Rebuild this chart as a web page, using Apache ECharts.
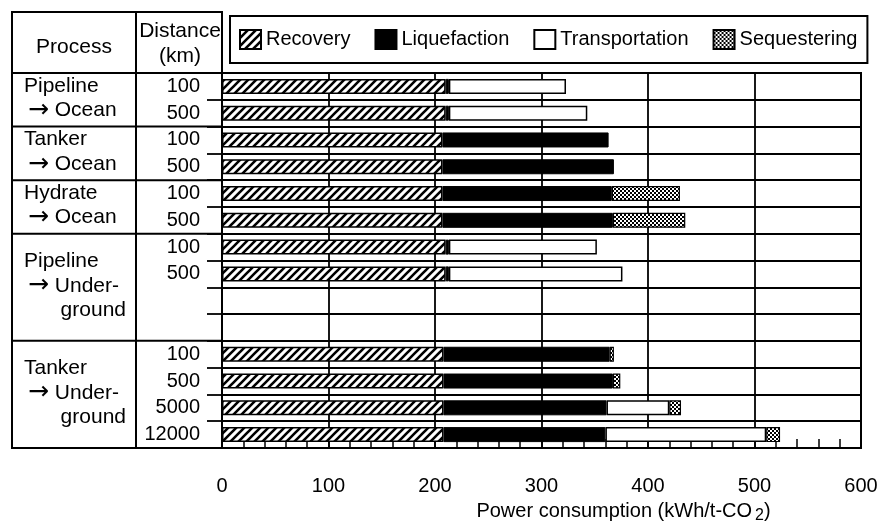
<!DOCTYPE html>
<html><head><meta charset="utf-8">
<script src="https://cdn.jsdelivr.net/npm/echarts@6/dist/echarts.min.js"></script>
<style>html,body{margin:0;padding:0;background:#fff}#c{width:878px;height:529px}</style>
</head><body><div id="c"></div>
<script>
// ---- data ----
const rowIds = ['PO100','PO500','TO100','TO500','HO100','HO500','PU100','PU500','PUb1','PUb2','TU100','TU500','TU5000','TU12000'];
const distanceLabels = ['100','500','100','500','100','500','100','500','','','100','500','5000','12000'];
const processLines = [['Pipeline','→ Ocean'],['Tanker','→ Ocean'],['Hydrate','→ Ocean'],['Pipeline','→ Under-','ground'],['Tanker','→ Under-','ground']];
const groupSizes = [2,2,2,4,4];
const seriesNames = ['Recovery','Liquefaction','Transportation','Sequestering'];
const recovery       = [210,210,207,207,207,207,210,210,null,null,208,208,208,208];
const liquefaction   = [3,3,156,161,159,160,3,3,null,null,156,159,153,152];
const transportation = [110,130,null,null,null,null,139,163,null,null,null,null,59,151];
const sequestering   = [null,null,null,null,64,68,null,null,null,null,4,7,11,13];
const xTicks = [0,100,200,300,400,500,600];

// ---- patterns ----
function hatchCanvas(){
  const c=document.createElement('canvas');c.width=8;c.height=8;
  const g=c.getContext('2d');g.fillStyle='#fff';g.fillRect(0,0,8,8);
  g.strokeStyle='#000';g.lineWidth=2.6;g.beginPath();
  g.moveTo(-2,10);g.lineTo(10,-2);g.moveTo(-6,6);g.lineTo(6,-6);g.moveTo(2,14);g.lineTo(14,2);
  g.stroke();return c;
}
function checkCanvas(){
  const c=document.createElement('canvas');c.width=4;c.height=4;
  const g=c.getContext('2d');g.fillStyle='#000';g.fillRect(0,0,4,4);
  g.fillStyle='#fff';g.fillRect(0,0,2,2);g.fillRect(2,2,2,2);return c;
}
const hatch={image:hatchCanvas(),repeat:'repeat'};
const check={image:checkCanvas(),repeat:'repeat'};

const FONT='"Liberation Sans", Arial, Helvetica, "DejaVu Sans", sans-serif';
const chart=echarts.init(document.getElementById('c'),null,{renderer:'canvas'});

const styles=[
  {color:hatch,borderColor:'#000',borderWidth:1.5},
  {color:'#000',borderColor:'#000',borderWidth:1},
  {color:'#fff',borderColor:'#000',borderWidth:1.5},
  {color:check,borderColor:'#000',borderWidth:1.2}
];
const values=[recovery,liquefaction,transportation,sequestering];

chart.setOption({
  animation:false,
  backgroundColor:'#fff',
  textStyle:{fontFamily:FONT,color:'#000'},
  legend:{
    left:230,top:16,padding:[13,10,13,9],itemGap:24,itemWidth:21,itemHeight:19,icon:'rect',
    borderColor:'#000',borderWidth:2,
    textStyle:{fontSize:20,color:'#000',fontFamily:FONT},
    data:seriesNames
  },
  grid:{left:222,right:17,top:73,bottom:81,show:true,borderColor:'#000',borderWidth:2,containLabel:false,outerBoundsMode:'none'},
  xAxis:{
    type:'value',min:0,max:600,interval:100,
    axisLine:{show:true,lineStyle:{color:'#000',width:2}},
    axisTick:{show:true,inside:true,length:10,lineStyle:{color:'#000',width:1.5}},
    minorTick:{show:true,splitNumber:5,length:9,lineStyle:{color:'#000',width:1.5}},
    splitLine:{show:true,lineStyle:{color:'#000',width:1.8}},
    axisLabel:{fontSize:20,color:'#000',margin:28,fontFamily:FONT,
      formatter:(v)=>xTicks.indexOf(v)>=0?String(v):''},
    name:'Power consumption (kWh/t-CO{sub|2})',nameLocation:'middle',nameGap:51,
    nameTextStyle:{fontSize:20,color:'#000',fontFamily:FONT,padding:[0,0,0,164],
      rich:{sub:{fontSize:16,color:'#000',fontFamily:FONT,padding:[9,0,0,3]}}}
  },
  yAxis:{
    type:'category',data:rowIds,inverse:true,
    axisLine:{show:true,lineStyle:{color:'#000',width:2}},
    axisTick:{show:true,interval:0,length:15,lineStyle:{color:'#000',width:1.8}},
    splitLine:{show:true,interval:0,lineStyle:{color:'#000',width:1.8}},
    axisLabel:{interval:0,fontSize:20,color:'#000',margin:22,fontFamily:FONT,
      formatter:(v,i)=>distanceLabels[i]}
  },
  series:seriesNames.map((n,k)=>({
    name:n,type:'bar',stack:'total',barWidth:15,
    itemStyle:styles[k],data:values[k]
  }))
});

// ---- left table (structure derived from axis) ----
function buildTable(){
  const y0=chart.convertToPixel({yAxisIndex:0},rowIds[0]);
  const y1=chart.convertToPixel({yAxisIndex:0},rowIds[1]);
  const band=y1-y0;
  const top=y0-band/2;
  const bottom=top+band*rowIds.length;
  const xAxisLeft=chart.convertToPixel({xAxisIndex:0},0);
  const L=12,T=12,colX=136;
  const els=[];
  const ls={stroke:'#000',lineWidth:2};
  els.push({type:'rect',shape:{x:L,y:T,width:xAxisLeft-L,height:bottom-T},style:{fill:null,stroke:'#000',lineWidth:2},z:10});
  els.push({type:'line',shape:{x1:L,y1:top,x2:xAxisLeft,y2:top},style:ls,z:10});
  els.push({type:'line',shape:{x1:colX,y1:T,x2:colX,y2:bottom},style:ls,z:10});
  const rich={a:{fontFamily:'"DejaVu Sans", sans-serif',fontSize:25,fill:'#000'}};
  const ts=(t,x,y,align)=>({type:'text',x:x,y:y,z:11,style:{text:t,fontSize:21,fontFamily:FONT,fill:'#000',align:align,verticalAlign:'middle',rich:rich}});
  els.push(ts('Process',(L+colX)/2,T+35,'center'));
  els.push({type:'text',x:(colX+xAxisLeft)/2+1,y:T+32,z:11,style:{text:'Distance\n(km)',fontSize:21,lineHeight:25,fontFamily:FONT,fill:'#000',align:'center',verticalAlign:'middle'}});
  let r=0;
  groupSizes.forEach((n,gi)=>{
    const gTop=top+r*band, gBot=top+(r+n)*band;
    if(gi<groupSizes.length-1) els.push({type:'line',shape:{x1:L,y1:gBot,x2:xAxisLeft,y2:gBot},style:ls,z:10});
    const lines=processLines[gi];
    const mid=(gTop+gBot)/2-1.5, lh=24.5;
    lines.forEach((t,li)=>{
      const y=mid+(li-(lines.length-1)/2)*lh;
      if(li===0) els.push(ts(t,24,y,'left'));
      else if(t.startsWith('→')) els.push(ts('{a|→} '+t.slice(2),28,y,'left'));
      else els.push(ts(t,126,y,'right'));
    });
    r+=n;
  });
  chart.setOption({graphic:{elements:els}});
}
buildTable();
</script>
</body></html>
